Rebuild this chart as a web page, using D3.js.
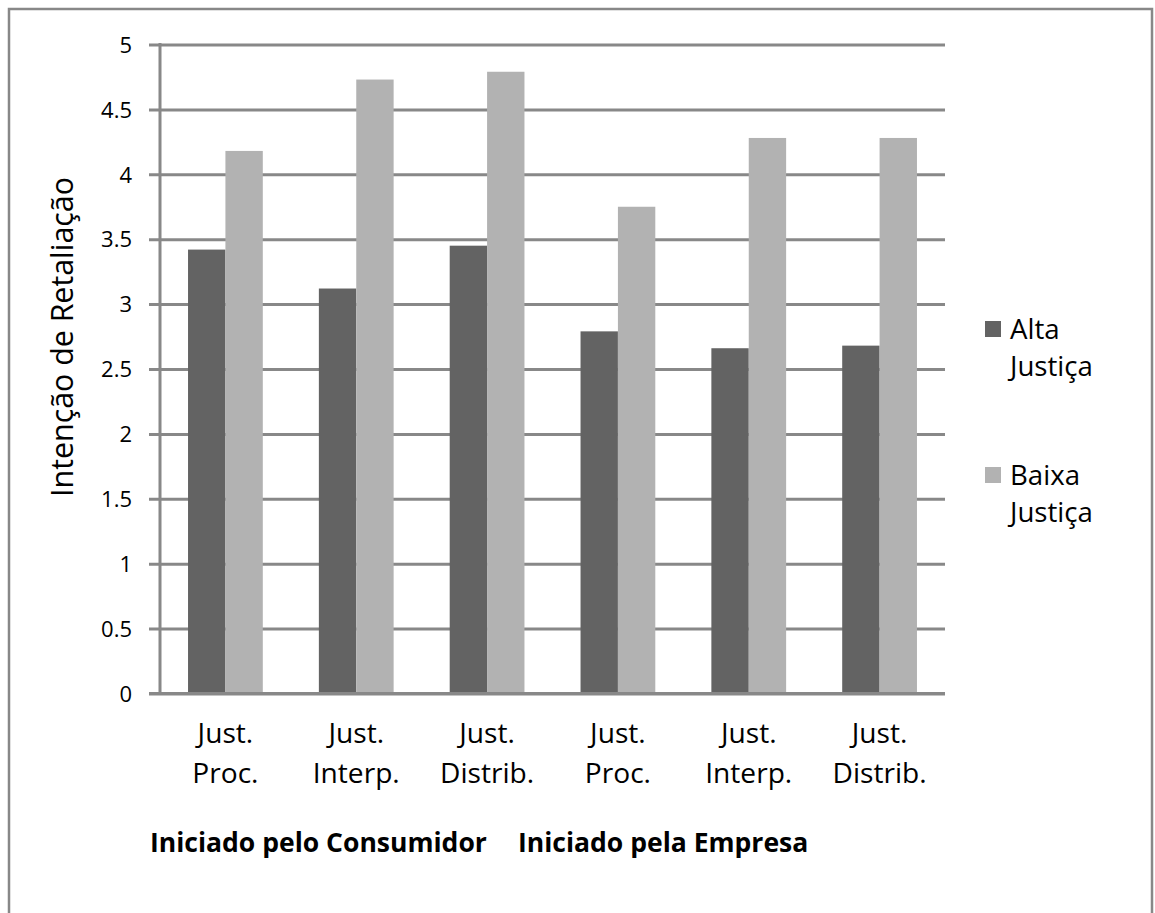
<!DOCTYPE html>
<html><head><meta charset="utf-8">
<script src="https://cdn.jsdelivr.net/npm/d3@7"></script>
<style>body{margin:0;background:#fff}svg{display:block}text{font-family:"Open Sans",sans-serif;fill:#000}</style>
</head><body><svg id="c" width="1155" height="913"></svg>
<script>
const categories = [["Just.","Proc."],["Just.","Interp."],["Just.","Distrib."],["Just.","Proc."],["Just.","Interp."],["Just.","Distrib."]];
const seriesNames = ["Alta Justiça","Baixa Justiça"];
const altaValues = [3.42, 3.12, 3.45, 2.79, 2.66, 2.68];
const baixaValues = [4.18, 4.73, 4.79, 3.75, 4.28, 4.28];
const yTicks = [0,0.5,1,1.5,2,2.5,3,3.5,4,4.5,5];
const groupLabels = ["Iniciado pelo Consumidor","Iniciado pela Empresa"];
const yTitle = "Intenção de Retaliação";
const colors = ["#636363","#b2b2b2"];

const svg = d3.select("#c");
function measure(str, size, weight){
  const t = svg.append("text").attr("font-size",size).attr("font-weight",weight||"normal").text(str);
  const w = t.node().getComputedTextLength(); t.remove(); return w;
}
function fitSize(str, target, weight){ return 20 * target / measure(str,20,weight); }

svg.append("rect").attr("x",9).attr("y",9).attr("width",1143).attr("height",920)
  .attr("fill","none").attr("stroke","#888").attr("stroke-width",2.5);

const x0 = 160, x1 = 945, yTop = 44.5, yBot = 693.5;
const x = d3.scaleBand().domain(d3.range(categories.length)).range([x0,x1]).paddingInner(0).paddingOuter(0);
const y = d3.scaleLinear().domain([0,5]).range([yBot,yTop]);
const bw = x.bandwidth()/3.5;

const yAxis = d3.axisLeft(y).tickValues(yTicks).tickSize(-(x1-x0)).tickFormat(d=>String(d));
const ga = svg.append("g").attr("transform",`translate(${x0},0)`).call(yAxis);
ga.select(".domain").remove();
ga.selectAll(".tick line").attr("stroke","#888").attr("stroke-width",3).attr("x1",-11);
ga.selectAll(".tick text").attr("font-size",22).attr("x",-28).attr("dy","0.35em")
  .attr("fill","#000").style("font-family","'Open Sans',sans-serif");

const g = svg.append("g");
categories.forEach((c,i)=>{
  [altaValues[i], baixaValues[i]].forEach((v,k)=>{
    g.append("rect")
      .attr("x", x(i) + x.bandwidth()/2 - bw + k*bw)
      .attr("y", y(v)).attr("width", bw).attr("height", y(0)-y(v))
      .attr("fill", colors[k]);
  });
});
svg.append("line").attr("x1",x0).attr("x2",x0).attr("y1",yTop-1.5).attr("y2",yBot+1.5).attr("stroke","#888").attr("stroke-width",3);
svg.append("line").attr("x1",x0-11).attr("x2",x1).attr("y1",yBot).attr("y2",yBot).attr("stroke","#888").attr("stroke-width",3);

const catSize = fitSize("Interp.", 87);
categories.forEach((c,i)=>{
  const cx = x(i)+x.bandwidth()/2;
  const t = svg.append("text").attr("text-anchor","middle").attr("font-size",catSize);
  t.append("tspan").attr("x",cx).attr("y",743).text(c[0]);
  t.append("tspan").attr("x",cx).attr("y",783).text(c[1]);
});

const titleSize = fitSize(yTitle, 320);
svg.append("text").attr("transform","translate(73,337) rotate(-90)").attr("text-anchor","middle")
  .attr("font-size",titleSize).text(yTitle);

const grpSize = fitSize(groupLabels[0], 337, "bold");
svg.append("text").attr("x",150).attr("y",852).attr("font-size",grpSize).attr("font-weight","bold").text(groupLabels[0]);
svg.append("text").attr("x",518).attr("y",852).attr("font-size",grpSize).attr("font-weight","bold").text(groupLabels[1]);

const legSize = fitSize("Justiça", 83);
const legY = [321, 467];
seriesNames.forEach((name,k)=>{
  svg.append("rect").attr("x",985).attr("y",legY[k]).attr("width",16).attr("height",16).attr("fill",colors[k]);
  const parts = name.split(" ");
  const t = svg.append("text").attr("font-size",legSize);
  t.append("tspan").attr("x",1010).attr("y",legY[k]+18).text(parts[0]);
  t.append("tspan").attr("x",1010).attr("y",legY[k]+55).text(parts[1]);
});
</script></body></html>
